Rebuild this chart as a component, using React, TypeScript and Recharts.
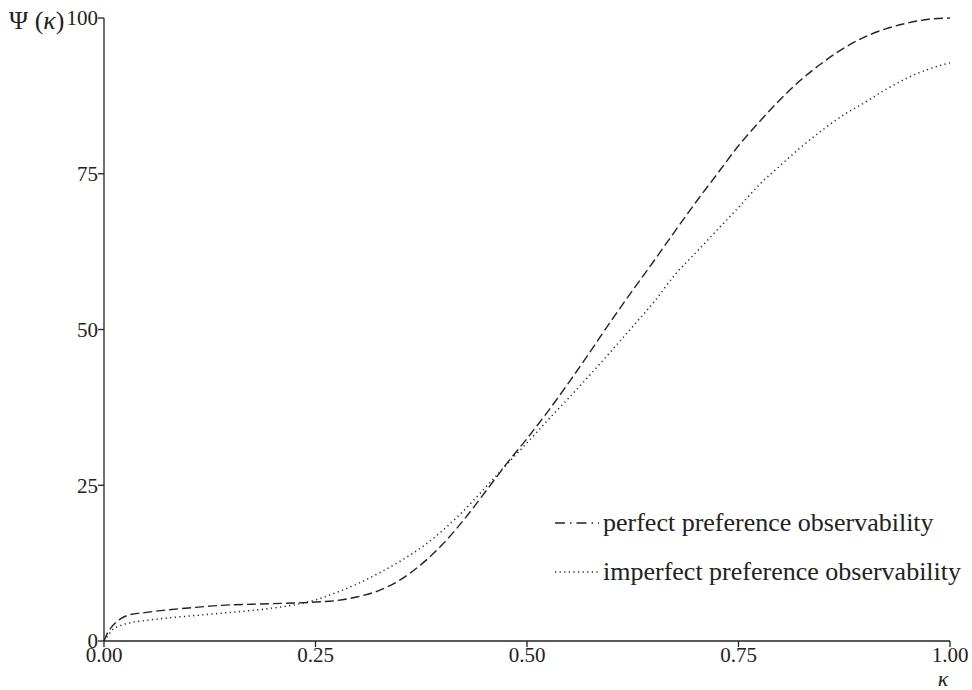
import React from "react";
import { LineChart, Line, XAxis, YAxis, Label } from "recharts";

const kappa = [
  0, 0.005, 0.01, 0.02, 0.03, 0.05, 0.075, 0.1, 0.125, 0.15, 0.175, 0.2, 0.225, 0.25,
  0.275, 0.3, 0.325, 0.35, 0.375, 0.4, 0.425, 0.45, 0.475, 0.5, 0.525, 0.55, 0.575,
  0.6, 0.625, 0.65, 0.675, 0.7, 0.725, 0.75, 0.775, 0.8, 0.825, 0.85, 0.875, 0.9,
  0.925, 0.95, 0.975, 1.0,
];

const perfect = [
  0, 1.5, 2.4, 3.6, 4.2, 4.6, 5.0, 5.3, 5.6, 5.8, 5.9, 6.0, 6.1, 6.25,
  6.5, 7.1, 8.1, 9.8, 12.3, 15.5, 19.4, 23.8, 28.3, 32.5, 36.9, 41.6, 46.5,
  51.5, 56.3, 61.0, 65.8, 70.5, 75.0, 79.5, 83.4, 87.0, 90.2, 92.9, 95.2, 97.0,
  98.3, 99.2, 99.8, 100,
];

const imperfect = [
  0, 0.9, 1.8, 2.5, 2.9, 3.3, 3.7, 4.0, 4.3, 4.6, 4.9, 5.3, 5.8, 6.6,
  7.8, 9.2, 10.9, 12.8, 15.0, 17.7, 20.9, 24.5, 28.2, 31.8, 35.5, 39.1, 42.8,
  46.6, 50.5, 54.4, 58.8, 62.4, 66.0, 69.6, 73.3, 76.4, 79.4, 82.1, 84.5, 86.5,
  88.6, 90.4, 91.8, 92.8,
];

const seriesNames = ["perfect preference observability", "imperfect preference observability"];
const xTicks = [0, 0.25, 0.5, 0.75, 1];
const yTicks = [0, 25, 50, 75, 100];

const data = kappa.map((k, i) => ({ k, perfect: perfect[i], imperfect: imperfect[i] }));

const ink = "#222";
const font = "'Liberation Serif', 'DejaVu Serif', serif";
const dashed = "9 4";
const dotted = "1.2 3.4";

function LegendBox() {
  const dashes = ["10 5 1.5 5", dotted];
  return (
    <div style={{ position: "absolute", left: 555, top: 498, fontFamily: font, fontSize: 26, color: ink }}>
      {seriesNames.map((name, i) => (
        <div key={name} style={{ display: "flex", alignItems: "center", height: 49 }}>
          <svg width={44} height={10} style={{ marginRight: 4 }}>
            <line x1={0} y1={5} x2={44} y2={5} stroke={ink} strokeWidth={1.4} strokeDasharray={dashes[i]} />
          </svg>
          <span>{name}</span>
        </div>
      ))}
    </div>
  );
}

export default function App() {
  return (
    <div style={{ position: "absolute", left: 0, top: 0, width: 972, height: 690, background: "#fff" }}>
      <LineChart width={972} height={690} data={data} margin={{ top: 18, right: 22, left: 44, bottom: 19 }}>
        <XAxis
          dataKey="k"
          type="number"
          domain={[0, 1]}
          ticks={xTicks}
          tickFormatter={(v: number) => v.toFixed(2)}
          stroke={ink}
          strokeWidth={1.3}
          tickSize={6}
          tickMargin={0}
          height={30}
          tick={{ fill: ink, fontFamily: font, fontSize: 21 }}
        >
          <Label
            content={() => (
              <text x={943} y={686} textAnchor="middle" fontFamily={font} fontSize={22} fontStyle="italic" fill={ink}>
                κ
              </text>
            )}
          />
        </XAxis>
        <YAxis
          type="number"
          domain={[0, 100]}
          ticks={yTicks}
          stroke={ink}
          strokeWidth={1.3}
          tickSize={6}
          tickMargin={0}
          width={60}
          tick={{ fill: ink, fontFamily: font, fontSize: 21 }}
        >
          <Label
            content={() => (
              <text x={9} y={29} fontFamily={font} fontSize={26} fill={ink}>
                Ψ (<tspan fontStyle="italic">κ</tspan>)
              </text>
            )}
          />
        </YAxis>
        <Line
          type="monotone"
          dataKey="perfect"
          stroke={ink}
          strokeWidth={1.4}
          strokeDasharray={dashed}
          dot={false}
          isAnimationActive={false}
        />
        <Line
          type="monotone"
          dataKey="imperfect"
          stroke={ink}
          strokeWidth={1.5}
          strokeDasharray={dotted}
          dot={false}
          isAnimationActive={false}
        />
      </LineChart>
      <LegendBox />
    </div>
  );
}
